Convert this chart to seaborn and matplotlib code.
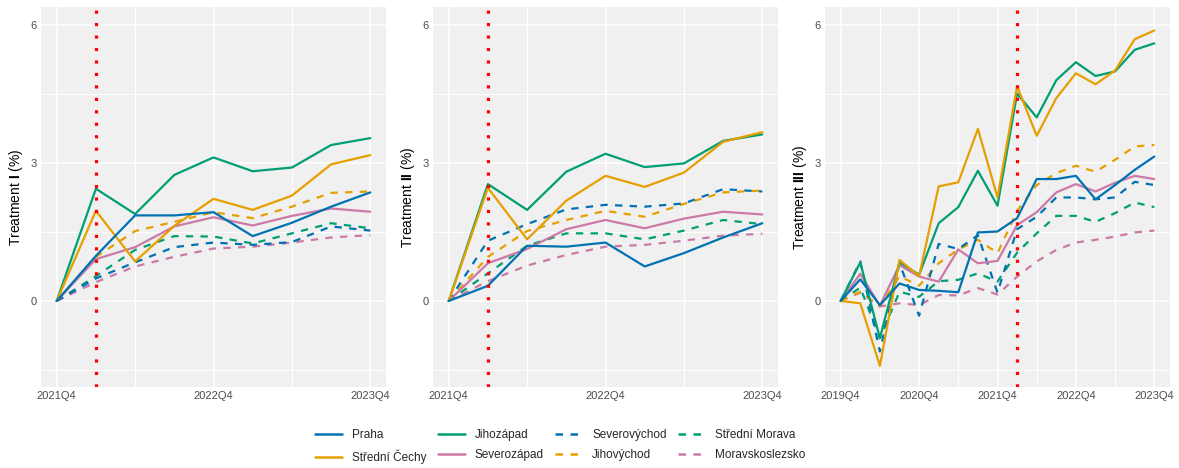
import numpy as np
import pandas as pd
import matplotlib
matplotlib.use("Agg")
import matplotlib.pyplot as plt
from matplotlib.lines import Line2D
import seaborn as sns

regions = ["Praha", "Střední Čechy", "Jihozápad", "Severozápad",
           "Severovýchod", "Jihovýchod", "Střední Morava", "Moravskoslezsko"]
colors = {"Praha": "#0072B2", "Střední Čechy": "#E69F00", "Jihozápad": "#009E73",
          "Severozápad": "#CC79A7", "Severovýchod": "#0072B2", "Jihovýchod": "#E69F00",
          "Střední Morava": "#009E73", "Moravskoslezsko": "#CC79A7"}
dashed = {"Praha": False, "Střední Čechy": False, "Jihozápad": False, "Severozápad": False,
          "Severovýchod": True, "Jihovýchod": True, "Střední Morava": True, "Moravskoslezsko": True}

quarters_short = ["2021Q4", "2022Q1", "2022Q2", "2022Q3", "2022Q4",
                  "2023Q1", "2023Q2", "2023Q3", "2023Q4"]
quarters_long = ["2019Q4", "2020Q1", "2020Q2", "2020Q3", "2020Q4",
                 "2021Q1", "2021Q2", "2021Q3", "2021Q4",
                 "2022Q1", "2022Q2", "2022Q3", "2022Q4",
                 "2023Q1", "2023Q2", "2023Q3", "2023Q4"]

t1 = {
    "Praha":           [0, 0.98, 1.86, 1.86, 1.93, 1.41, 1.70, 2.05, 2.36],
    "Střední Čechy":   [0, 1.96, 0.86, 1.63, 2.22, 1.98, 2.29, 2.97, 3.17],
    "Jihozápad":       [0, 2.44, 1.89, 2.74, 3.12, 2.82, 2.90, 3.39, 3.54],
    "Severozápad":     [0, 0.91, 1.17, 1.62, 1.82, 1.64, 1.85, 2.01, 1.94],
    "Severovýchod":    [0, 0.49, 0.84, 1.17, 1.27, 1.22, 1.28, 1.62, 1.53],
    "Jihovýchod":      [0, 0.96, 1.52, 1.72, 1.93, 1.80, 2.05, 2.35, 2.38],
    "Střední Morava":  [0, 0.54, 1.11, 1.41, 1.40, 1.25, 1.47, 1.69, 1.58],
    "Moravskoslezsko": [0, 0.41, 0.75, 0.96, 1.14, 1.18, 1.27, 1.38, 1.43],
}
t2 = {
    "Praha":           [0, 0.33, 1.20, 1.18, 1.27, 0.75, 1.04, 1.38, 1.69],
    "Střední Čechy":   [0, 2.46, 1.34, 2.18, 2.72, 2.48, 2.79, 3.46, 3.67],
    "Jihozápad":       [0, 2.54, 1.98, 2.81, 3.20, 2.91, 2.99, 3.48, 3.62],
    "Severozápad":     [0, 0.82, 1.13, 1.56, 1.76, 1.58, 1.79, 1.94, 1.88],
    "Severovýchod":    [0, 1.31, 1.67, 1.99, 2.09, 2.05, 2.12, 2.43, 2.38],
    "Jihovýchod":      [0, 0.96, 1.52, 1.76, 1.96, 1.83, 2.11, 2.36, 2.40],
    "Střední Morava":  [0, 0.60, 1.20, 1.47, 1.47, 1.34, 1.53, 1.76, 1.67],
    "Moravskoslezsko": [0, 0.43, 0.77, 1.00, 1.18, 1.22, 1.31, 1.42, 1.46],
}
t3 = {
    "Praha":           [0, 0.47, -0.09, 0.38, 0.24, 0.22, 0.19, 1.49, 1.51, 1.80,
                        2.65, 2.65, 2.72, 2.21, 2.52, 2.85, 3.14],
    "Střední Čechy":   [0, -0.05, -1.41, 0.89, 0.54, 2.49, 2.58, 3.74, 2.25, 4.67,
                        3.59, 4.41, 4.95, 4.71, 5.01, 5.69, 5.88],
    "Jihozápad":       [0, 0.84, -0.81, 0.84, 0.57, 1.69, 2.04, 2.83, 2.07, 4.51,
                        3.99, 4.80, 5.19, 4.89, 4.99, 5.46, 5.60],
    "Severozápad":     [0, 0.59, -0.10, 0.78, 0.53, 0.42, 1.12, 0.82, 0.87, 1.65,
                        1.93, 2.36, 2.54, 2.38, 2.57, 2.72, 2.65],
    "Severovýchod":    [0, 0.86, -1.10, 0.82, -0.32, 1.24, 1.13, 1.43, 0.18, 1.56,
                        1.83, 2.25, 2.25, 2.21, 2.25, 2.59, 2.52],
    "Jihovýchod":      [0, 0.20, -0.12, 0.54, 0.33, 0.82, 1.12, 1.33, 1.04, 1.96,
                        2.52, 2.78, 2.94, 2.81, 3.07, 3.36, 3.39],
    "Střední Morava":  [0, 0.29, -0.81, 0.20, 0.09, 0.43, 0.46, 0.60, 0.42, 1.05,
                        1.47, 1.85, 1.85, 1.72, 1.91, 2.14, 2.04],
    "Moravskoslezsko": [0, 0.18, -0.12, -0.05, -0.09, 0.13, 0.12, 0.28, 0.14, 0.53,
                        0.86, 1.11, 1.27, 1.33, 1.40, 1.49, 1.53],
}
treat_names = ["I", "II", "III"]
policy_quarter = "2022Q1"

sns.set_theme(style="darkgrid")
plt.rcParams["font.family"] = ["Liberation Sans", "DejaVu Sans"]
plt.rcParams["mathtext.fontset"] = "custom"
plt.rcParams["mathtext.rm"] = "Liberation Sans"
plt.rcParams["mathtext.bf"] = "Liberation Sans:bold"

W, H = 1179, 468
fig = plt.figure(figsize=(W / 100, H / 100), dpi=100)

lefts = [41, 433, 825]
pw = 345
ptop, pbot = 7, 387

palette = {r: colors[r] for r in regions}
dash_map = {r: ((3.3, 3.3) if dashed[r] else "") for r in regions}

for i, (data, quarters) in enumerate([(t1, quarters_short), (t2, quarters_short), (t3, quarters_long)]):
    ax = fig.add_axes([lefts[i] / W, 1 - pbot / H, pw / W, (pbot - ptop) / H])
    ax.set_facecolor("#F0F0F0")
    rows = []
    for r in regions:
        for k, v in enumerate(data[r]):
            rows.append({"t": k, "value": v, "region": r})
    df = pd.DataFrame(rows)
    sns.lineplot(data=df, x="t", y="value", hue="region", style="region",
                 palette=palette, dashes=dash_map, hue_order=regions[::-1],
                 style_order=regions[::-1], linewidth=1.6, legend=False, ax=ax)
    n = len(quarters)
    ax.axvline(quarters.index(policy_quarter), color="red", lw=2.3,
               linestyle=(0, (1, 2.9)), zorder=5)
    ax.set_xlim(-0.05 * (n - 1), (n - 1) * 1.05)
    ax.set_ylim(-1.87, 6.39)
    major = list(range(0, n, 4))
    ax.set_xticks(major)
    ax.set_xticklabels([quarters[k] for k in major])
    ax.set_xticks(list(range(2, n, 4)), minor=True)
    ax.set_yticks([0, 3, 6])
    ax.set_yticks([-1.5, 1.5, 4.5], minor=True)
    ax.grid(which="major", color="white", lw=1.1)
    ax.grid(which="minor", color="white", lw=0.8)
    ax.tick_params(axis="both", which="both", length=0, labelsize=8,
                   labelcolor="#4D4D4D", pad=3)
    ax.set_xlabel("")
    ax.set_ylabel(r"Treatment $\mathbf{" + treat_names[i] + r"}$ (%)",
                  fontsize=10, color="black", labelpad=4)
    for s in ax.spines.values():
        s.set_visible(False)

handles = []
for r in regions:
    handles.append(Line2D([0], [0], color=colors[r], lw=1.8,
                          linestyle=(0, (3.0, 3.0)) if dashed[r] else "-"))
leg = fig.legend(handles, regions, ncol=4, loc="center",
                 bbox_to_anchor=(560 / W, 1 - 446.5 / H), frameon=False,
                 fontsize=8.5, handlelength=2.3, handletextpad=0.85,
                 columnspacing=0.95, labelspacing=0.7)

fig.savefig("out.png", dpi=100)
